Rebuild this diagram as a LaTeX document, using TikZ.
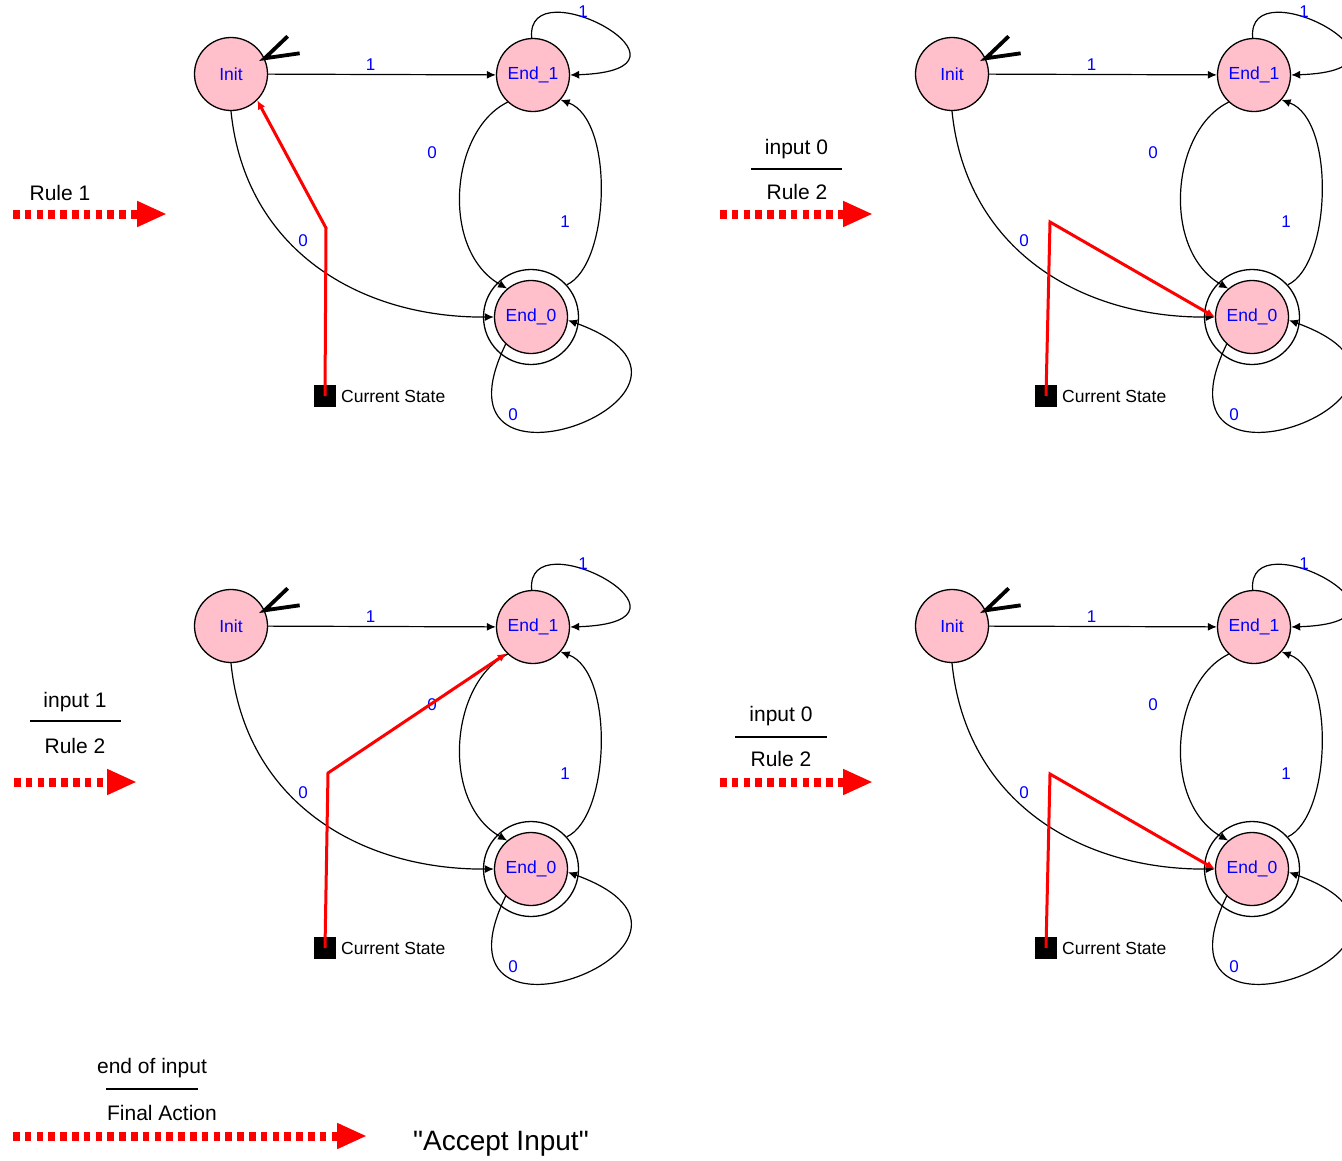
\documentclass[tikz,border=0pt]{standalone}
\usepackage{fontspec}
\setmainfont{Liberation Sans}
\usetikzlibrary{
  arrows.meta
}
\definecolor{statepink}{RGB}{255,192,203}
% plain " glyph, not turned into a curly quote
\newcommand{\straightquote}{\XeTeXglyph\XeTeXcharglyph"22\relax}

\begin{document}
\begin{tikzpicture}[
  x=1pt,
  y=-1pt,
  state/.style={
    circle,
    draw,
    line width=1.3pt,
    fill=statepink,
    minimum size=73pt,
    inner sep=0pt,
    text=blue,
    font=\fontsize{17.5}{20}\selectfont
  },
  ring/.style={
    circle,
    draw,
    line width=1.3pt,
    minimum size=95pt,
    inner sep=0pt
  },
  edge/.style={
    -{Latex[length=9pt,width=8pt]},
    line width=1.2pt
  },
  lbl/.style={
    text=blue,
    font=\fontsize{17}{20}\selectfont
  },
  startmark/.style={
    line width=3.8pt
  },
  curbox/.style={
    fill=black,
    minimum size=22pt,
    inner sep=0pt
  },
  curtext/.style={
    anchor=west,
    inner sep=0pt,
    font=\fontsize{17.5}{20}\selectfont
  },
  current/.style={
    -{Latex[length=9pt,width=8pt]},
    red,
    line width=3pt
  },
  rulearrow/.style={
    -{Triangle[length=30pt,width=24pt]},
    red,
    line width=9pt,
    dash pattern=on 6.5pt off 5.3pt
  },
  cond/.style={
    anchor=base,
    inner sep=0pt,
    font=\fontsize{21}{25}\selectfont
  },
  bar/.style={
    line width=1.3pt
  },
  fsm/.pic={
    \node[state] (-init) at (231,74) {Init};
    \node[state] (-endone) at (533,75) {End\_1};
    \node[state] (-endzero) at (531,317) {End\_0};
    \node[ring] (-ring) at (531,317) {};
    % initial state marker
    \draw[startmark] (-init.25) ++(23,-22) -- (-init.25) -- ++(35,-5);
    % transitions
    \draw[edge] (-init) -- node[lbl,above,pos=.45]{1} (-endone);
    \draw[edge] (-init.south) .. controls (245,250) and (360,318) .. (-endzero.west);
    \draw[edge] (-endone.227) .. controls (450,130) and (440,250) .. (-endzero.130);
    \draw[edge] (-ring.42) .. controls (610,265) and (615,120) .. (-endone.-42);
    \draw[edge] (-endone.92) .. controls (525,-35) and (720,70) .. (-endone.east);
    \draw[edge] (-endzero.227) .. controls (420,520) and (760,390) .. (-endzero.-5);
    \node[lbl] at (303,241) {0};
    \node[lbl] at (432,153) {0};
    \node[lbl] at (565,222) {1};
    \node[lbl] at (583,12) {1};
    \node[lbl] at (513,415) {0};
    % current state pointer
    \node[curbox] (-cur) at (325,396) {};
    \node[curtext] (-curtext) at (341,396) {Current State};
  }
]

\useasboundingbox (0,0) rectangle (1342,1160);
\clip (0,0) rectangle (1342,1160);

\pic (tl) at (0,0) {fsm};
\pic (tr) at (721,0) {fsm};
\pic (bl) at (0,552) {fsm};
\pic (br) at (721,552) {fsm};

% where the machine is
\draw[current] (tl-cur.center) -- (326,228) -- (tl-init.-45);
\draw[current] (tr-cur.center) -- (1050,222) -- (tr-endzero.west);
\draw[current] (bl-cur.center) -- (328,773) -- (bl-endone.-135);
\draw[current] (br-cur.center) -- (1050,774) -- (br-endzero.west);

% --- rule steps ---
\node[cond] (ruleone) at (60,200) {Rule 1};
\coordinate (s1a) at (13,214);
\coordinate (s1b) at (167,214);
\draw[rulearrow] (s1a) -- (s1b);

\node[cond] (intop) at (796.5,154) {input 0};
\draw[bar] (751,169) -- (842,169);
\node[cond] (ruletop) at (797,199) {Rule 2};
\coordinate (s2a) at (720,214);
\coordinate (s2b) at (873,214);
\draw[rulearrow] (s2a) -- (s2b);

\node[cond] (inleft) at (75,707) {input 1};
\draw[bar] (30,721) -- (121,721);
\node[cond] (ruleleft) at (75,753) {Rule 2};
\coordinate (s3a) at (14,782);
\coordinate (s3b) at (137,782);
\draw[rulearrow] (s3a) -- (s3b);

\node[cond] (inmid) at (781,721) {input 0};
\draw[bar] (735,737) -- (827,737);
\node[cond] (rulemid) at (781,766) {Rule 2};
\coordinate (s4a) at (720,782);
\coordinate (s4b) at (873,782);
\draw[rulearrow] (s4a) -- (s4b);

% --- final action ---
\node[cond] (inend) at (152,1073) {end of input};
\draw[bar] (106,1089) -- (198,1089);
\node[cond] (final) at (162,1120) {Final Action};
\coordinate (s5a) at (13,1136);
\coordinate (s5b) at (367,1136);
\draw[rulearrow] (s5a) -- (s5b);
\node[anchor=base west,inner sep=0pt,font=\fontsize{28}{32}\selectfont] (accept)
  at (413,1150) {\straightquote Accept Input\straightquote};

\end{tikzpicture}
\end{document}
